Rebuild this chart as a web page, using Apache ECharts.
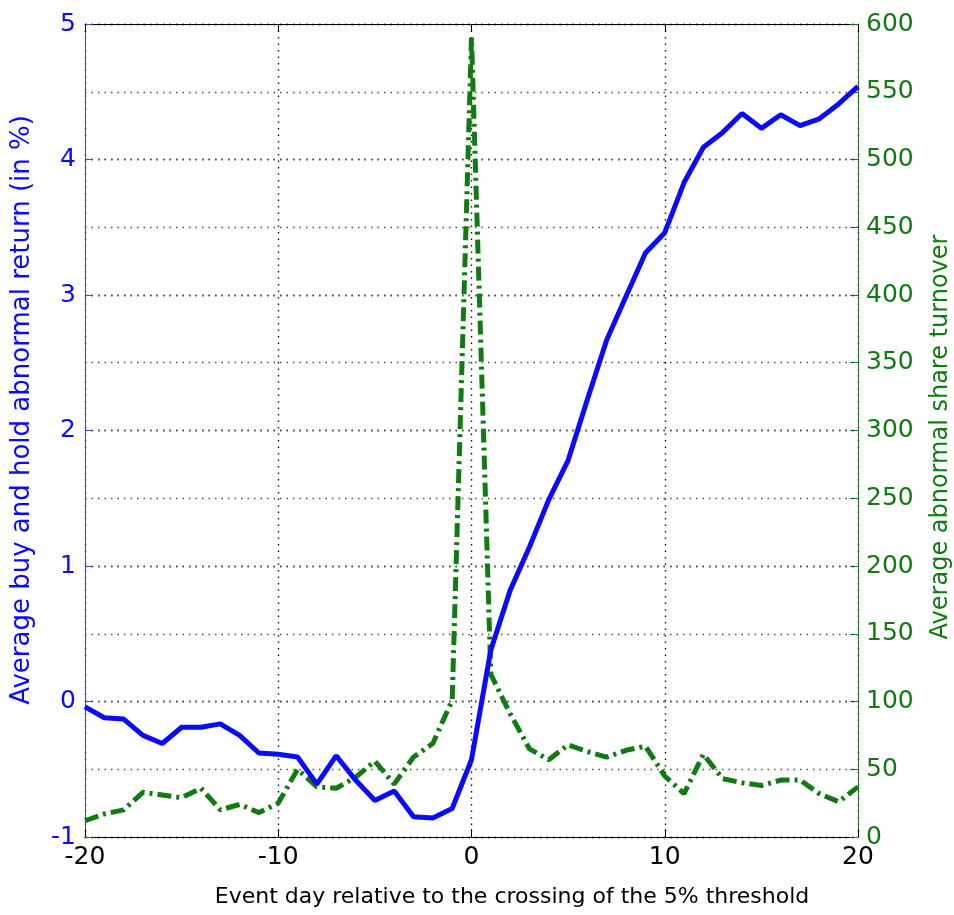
<!DOCTYPE html>
<html>
<head>
<meta charset="utf-8">
<script src="https://cdn.jsdelivr.net/npm/echarts@6/dist/echarts.min.js"></script>
<style>html,body{margin:0;padding:0;background:#fff}#c{width:954px;height:915px}</style>
</head>
<body>
<div id="c"></div>
<script>
const days = [-20,-19,-18,-17,-16,-15,-14,-13,-12,-11,-10,-9,-8,-7,-6,-5,-4,-3,-2,-1,0,1,2,3,4,5,6,7,8,9,10,11,12,13,14,15,16,17,18,19,20];
const bhar = [-0.04,-0.12,-0.13,-0.25,-0.31,-0.19,-0.19,-0.165,-0.25,-0.38,-0.39,-0.41,-0.61,-0.40,-0.58,-0.73,-0.66,-0.85,-0.86,-0.79,-0.43,0.38,0.82,1.14,1.49,1.78,2.23,2.67,2.99,3.31,3.46,3.83,4.09,4.20,4.34,4.23,4.33,4.25,4.30,4.41,4.54];
const turnover = [12,17,20,33,31,29,36,20,24,18,25,50,37,36,44,56,39,59,69,101,590,120,91,65,57,68,63,59,64,67,45,32,61,43,40,38,42,42,32,26,37];
const xTitle = 'Event day relative to the crossing of the 5% threshold';
const yLeftTitle = 'Average buy and hold abnormal return (in %)';
const yRightTitle = 'Average abnormal share turnover';

const FONT = 'DejaVu Sans';
const BLUE = '#0a0aff';
const GREEN = '#127a12';
const chart = echarts.init(document.getElementById('c'), null, {renderer: 'canvas'});
chart.setOption({
  animation: false,
  backgroundColor: '#fff',
  grid: {left: 85, right: 96, top: 24, bottom: 78, show: false},
  xAxis: [{
    type: 'value', min: -20, max: 20, interval: 10, position: 'bottom',
    axisLine: {show: true, onZero: false, lineStyle: {color: '#000', width: 1}},
    axisTick: {show: true, inside: true, length: 8, lineStyle: {color: '#000'}},
    axisLabel: {color: '#000', fontSize: 25, fontFamily: FONT, margin: 8},
    splitLine: {show: true, lineStyle: {color: '#111', type: [1.5, 5], width: 1.4}}
  }, {
    type: 'value', min: -20, max: 20, interval: 10, position: 'top',
    axisLine: {show: true, onZero: false, lineStyle: {color: '#000', width: 1}},
    axisTick: {show: true, inside: true, length: 8, lineStyle: {color: '#000'}},
    axisLabel: {show: false}, splitLine: {show: false}
  }],
  yAxis: [{
    type: 'value', min: -1, max: 5, interval: 1, position: 'left',
    axisLine: {show: true, onZero: false, lineStyle: {color: '#4a4a9a', width: 1}},
    axisTick: {show: true, inside: true, length: 8, lineStyle: {color: '#4a4a9a'}},
    axisLabel: {color: BLUE, fontSize: 25, fontFamily: FONT, margin: 9},
    splitLine: {show: true, lineStyle: {color: '#222', type: [1.5, 5], width: 1.4}}
  }, {
    type: 'value', min: 0, max: 600, interval: 50, position: 'right',
    axisLine: {show: true, onZero: false, lineStyle: {color: GREEN, width: 1}},
    axisTick: {show: true, inside: true, length: 8, lineStyle: {color: GREEN}},
    axisLabel: {color: GREEN, fontSize: 25, fontFamily: FONT, margin: 8},
    splitLine: {show: true, lineStyle: {color: '#3a5a3a', type: [1.5, 5], width: 1.4}}
  }],
  graphic: [
    {type: 'text', x: 512, y: 897, style: {text: xTitle, font: '22px "DejaVu Sans"', fill: '#000', align: 'center', verticalAlign: 'middle'}},
    {type: 'text', x: 22, y: 410, rotation: Math.PI/2, style: {text: yLeftTitle, font: '26px "DejaVu Sans"', fill: BLUE, align: 'center', verticalAlign: 'middle'}},
    {type: 'text', x: 941, y: 437, rotation: Math.PI/2, style: {text: yRightTitle, font: '24px "DejaVu Sans"', fill: GREEN, align: 'center', verticalAlign: 'middle'}}
  ],
  series: [{
    type: 'line', xAxisIndex: 0, yAxisIndex: 1, symbol: 'none',
    data: days.map((d, i) => [d, turnover[i]]),
    lineStyle: {color: GREEN, width: 5, type: [14, 5, 3, 5]}
  }, {
    type: 'line', xAxisIndex: 0, yAxisIndex: 0, symbol: 'none',
    data: days.map((d, i) => [d, bhar[i]]),
    lineStyle: {color: BLUE, width: 5}
  }]
});
</script>
</body>
</html>
